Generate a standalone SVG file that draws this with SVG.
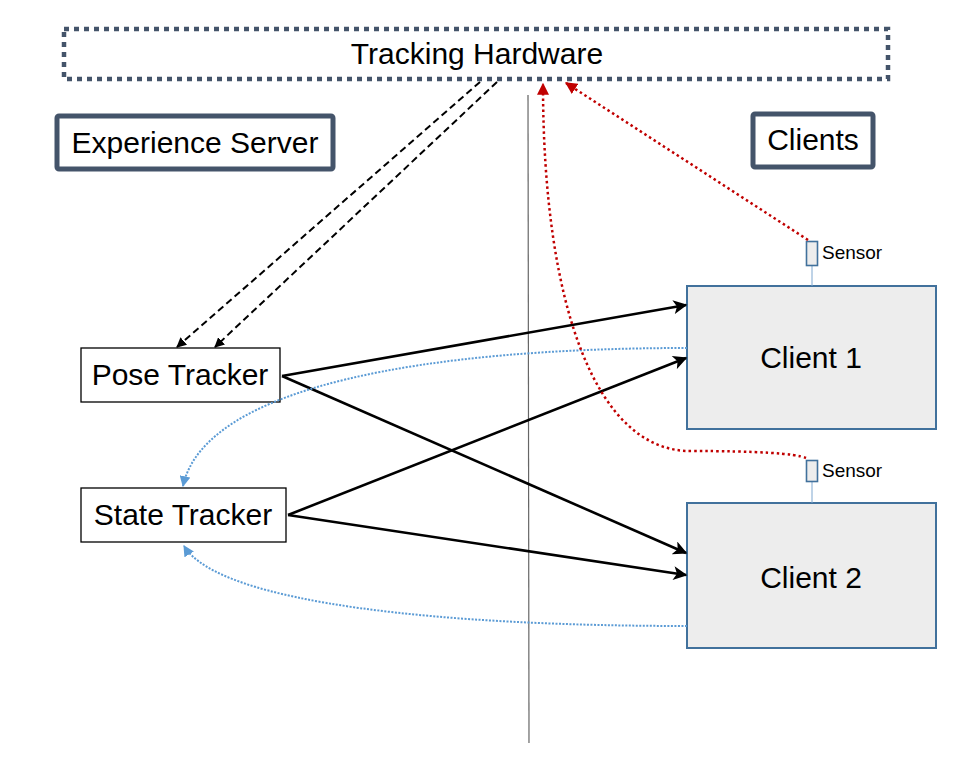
<svg xmlns="http://www.w3.org/2000/svg" width="964" height="764" viewBox="0 0 964 764">
<defs>
<style>
text{font-family:"Liberation Sans",Arial,sans-serif;fill:#000}
.big{font-size:30px;text-anchor:middle}
.small{font-size:19px}
.label{fill:#fff;stroke:#44546A;stroke-width:5}
.tracker{fill:#fff;stroke:#000;stroke-width:1.3}
.client{fill:#EDEDED;stroke:#41719C;stroke-width:2}
.solid{fill:none;stroke:#000;stroke-width:2.6}
.dashed{fill:none;stroke:#000;stroke-width:2;stroke-dasharray:7 4}
.blue{fill:none;stroke:#5B9BD5;stroke-width:2;stroke-dasharray:2 1.5}
.red{fill:none;stroke:#C00000;stroke-width:2.5;stroke-dasharray:2.5 3}
</style>
<marker id="ab" viewBox="0 0 10 10" refX="9" refY="5" markerWidth="10" markerHeight="10" markerUnits="userSpaceOnUse" orient="auto"><path d="M0,0 L10,5 L0,10 z" fill="#000"/></marker>
<marker id="as" viewBox="0 0 10 10" refX="9" refY="5" markerWidth="16" markerHeight="14" markerUnits="userSpaceOnUse" orient="auto"><path d="M0,0 L10,5 L0,10 L2.5,5 z" fill="#000"/></marker>
<marker id="abl" viewBox="0 0 10 10" refX="9" refY="5" markerWidth="11" markerHeight="11" markerUnits="userSpaceOnUse" orient="auto"><path d="M0,0 L10,5 L0,10 z" fill="#5B9BD5"/></marker>
<marker id="ar" viewBox="0 0 10 10" refX="9" refY="5" markerWidth="12" markerHeight="12" markerUnits="userSpaceOnUse" orient="auto"><path d="M0,0 L10,5 L0,10 z" fill="#C00000"/></marker>
</defs>
<rect width="964" height="764" fill="#fff"/>
<line x1="528" y1="95" x2="529" y2="743" stroke="#666" stroke-width="1.2"/>
<g id="tracking-hardware">
<rect x="64" y="29" width="824" height="50" fill="#fff" stroke="#44546A" stroke-width="4.5" stroke-dasharray="5 5"/>
<text class="big" x="477" y="64">Tracking Hardware</text>
</g>
<g id="experience-server">
<rect class="label" x="57" y="116" width="276" height="53" rx="2"/>
<text class="big" x="195" y="153">Experience Server</text>
</g>
<g id="clients">
<rect class="label" x="753" y="114" width="120" height="53" rx="2"/>
<text class="big" x="813" y="150">Clients</text>
</g>
<g id="pose-tracker">
<rect class="tracker" x="81" y="348" width="199" height="54"/>
<text class="big" x="180" y="385">Pose Tracker</text>
</g>
<g id="state-tracker">
<rect class="tracker" x="81" y="488" width="205" height="54"/>
<text class="big" x="183" y="525">State Tracker</text>
</g>
<g id="client-1">
<rect class="client" x="687" y="286" width="249" height="143"/>
<text class="big" x="811" y="368">Client 1</text>
</g>
<g id="client-2">
<rect class="client" x="687" y="503" width="249" height="145"/>
<text class="big" x="811" y="588">Client 2</text>
</g>
<g id="sensor-1">
<line x1="812" y1="265" x2="812" y2="286" stroke="#7FA7CF" stroke-width="1"/>
<rect x="806.5" y="241.5" width="11" height="24" fill="#EDEDED" stroke="#41719C" stroke-width="1.6"/>
<text class="small" x="822" y="259">Sensor</text>
</g>
<g id="sensor-2">
<line x1="812" y1="481" x2="812" y2="503" stroke="#7FA7CF" stroke-width="1"/>
<rect x="806.5" y="460.5" width="11" height="21" fill="#EDEDED" stroke="#41719C" stroke-width="1.6"/>
<text class="small" x="822" y="477">Sensor</text>
</g>
<g id="connectors">
<path class="dashed" d="M480,82 L177,347" marker-end="url(#ab)"/>
<path class="dashed" d="M497,82 L215,347" marker-end="url(#ab)"/>
<path class="solid" d="M282,376 L686,305" marker-end="url(#as)"/>
<path class="solid" d="M282,376 L686,553" marker-end="url(#as)"/>
<path class="solid" d="M288,515 L686,358" marker-end="url(#as)"/>
<path class="solid" d="M288,515 L686,575" marker-end="url(#as)"/>
<path class="blue" d="M687,348 C430,348 205,385 183,486" marker-end="url(#abl)"/>
<path class="blue" d="M687,626 C450,626 220,605 184,546" marker-end="url(#abl)"/>
<path class="red" d="M808,240 L566,83" marker-end="url(#ar)"/>
<path class="red" d="M806,458 Q790,451 690,451 C598,451 543,310 543,84" marker-end="url(#ar)"/>
</g>
</svg>
